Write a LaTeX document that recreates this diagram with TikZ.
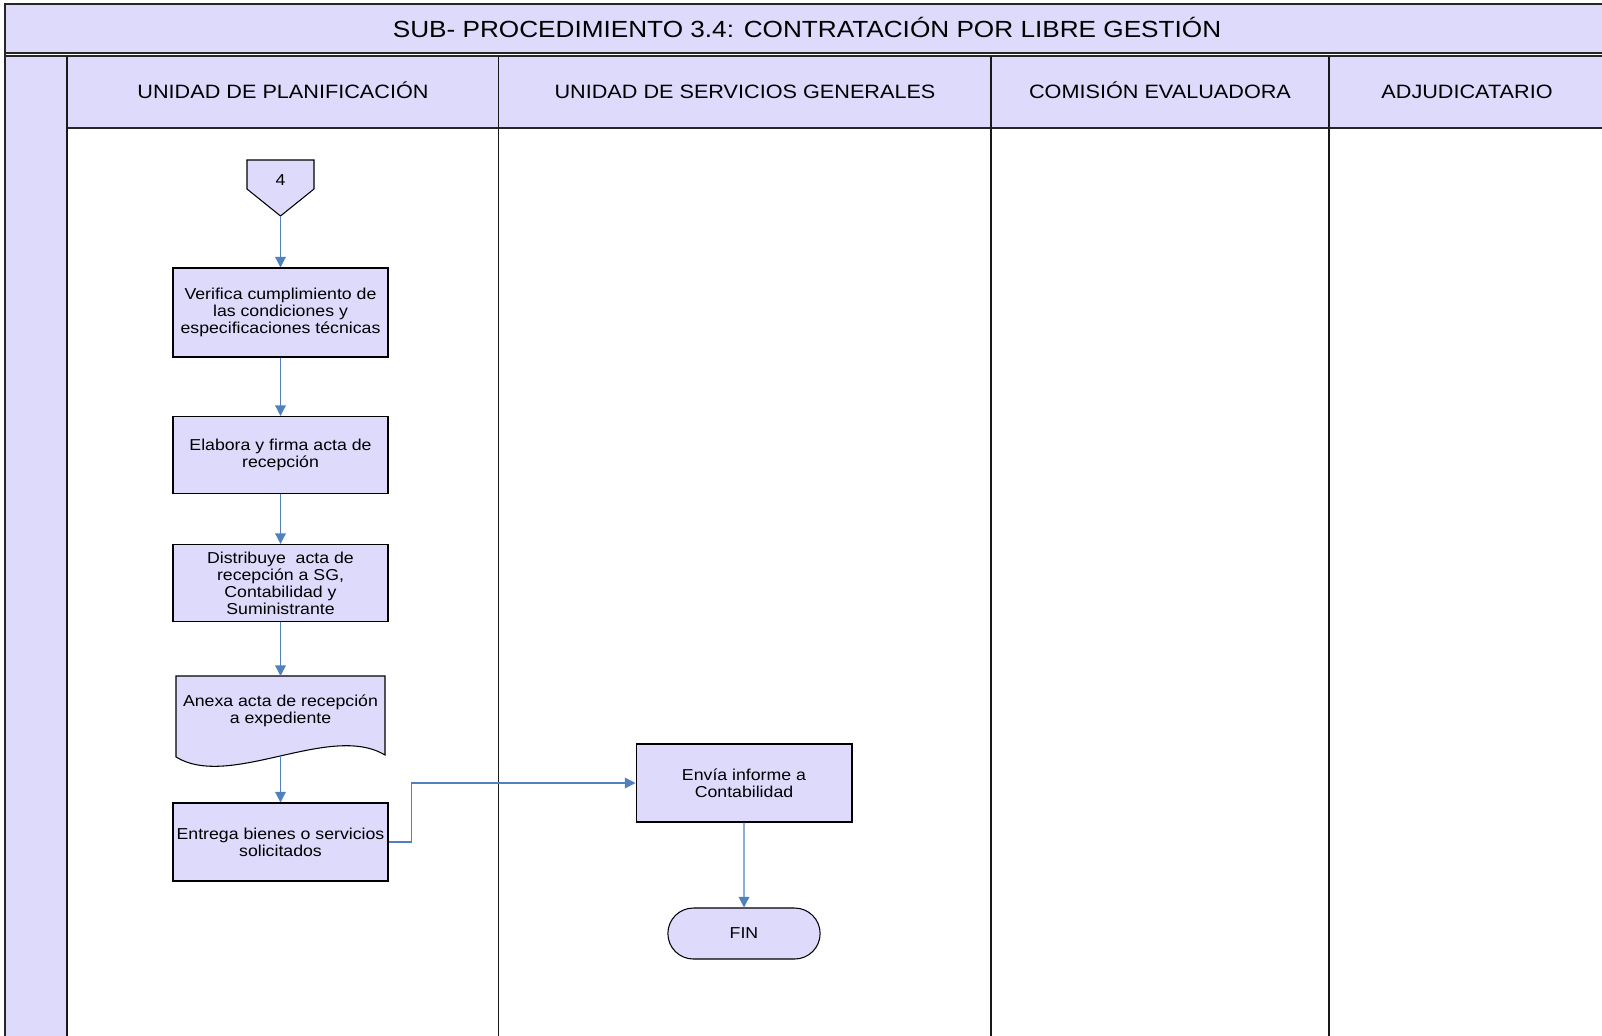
\documentclass[tikz,border=0pt]{standalone}
\usepackage{fontspec}
\setmainfont{Liberation Sans}[FakeStretch=1.12]
\usepackage{xcolor}
\usetikzlibrary{arrows.meta,positioning,shapes.misc}
\definecolor{lavanda}{RGB}{221,218,251}
\definecolor{flecha}{RGB}{79,129,189}

\begin{document}
\begin{tikzpicture}[
      x=0.02cm, y=-0.02cm,
      marco/.style={line width=1.1pt, draw=black!85},
      carril/.style={line width=1pt, draw=black!90},
      titulo/.style={font=\fontsize{13.3}{15}\selectfont, text height=9.5pt, text depth=0pt},
      encabezado/.style={font=\fontsize{11}{13}\selectfont, text height=8pt, text depth=0pt},
      proceso/.style={rectangle, draw, line width=0.6pt, fill=lavanda, minimum width=4.3cm,
        inner xsep=1pt, align=center, font=\fontsize{9}{9.7}\selectfont},
      texto/.style={align=center, font=\fontsize{9}{9.7}\selectfont},
      fin/.style={rounded rectangle, draw, line width=0.6pt, fill=lavanda, minimum width=3.28cm,
        minimum height=1.02cm, font=\fontsize{9}{9.7}\selectfont},
      flujo/.style={draw=flecha, line width=0.7pt, -{Triangle[width=6pt,length=6pt]}}
    ]
      \useasboundingbox (0,0) rectangle (1602,1035);
      \clip (0,0) rectangle (1602,1035);
      % Fondo del diagrama
      \fill[lavanda] (5,4) rectangle (1610,53);
      \fill[lavanda] (5,56) rectangle (67,1040);
      \fill[lavanda] (67,56) rectangle (1610,128);
      \draw[marco] (1610,4) -- (5,4) -- (5,1040);
      \draw[marco] (5,53) -- (1610,53);
      \draw[marco] (5,56) -- (1610,56);
      \draw[marco] (67,128) -- (1610,128);
      \foreach \x in {67,498.6,991,1329}
        \draw[carril] (\x,56) -- (\x,1040);
      % Titulo y carriles
      \node[titulo] (titulo) at (807,29) {SUB- PROCEDIMIENTO 3.4: CONTRATACIÓN POR LIBRE GESTIÓN};
      \node[encabezado] (planificacion) at (283,91) {UNIDAD DE PLANIFICACIÓN};
      \node[encabezado] (servicios) at (745,91) {UNIDAD DE SERVICIOS GENERALES};
      \node[encabezado] (comision) at (1160,91) {COMISIÓN EVALUADORA};
      \node[encabezado] (adjudicatario) at (1467,91) {ADJUDICATARIO};
      % Conector 4
      \draw[fill=lavanda, line width=0.6pt] (247,160) -- (314,160) -- (314,189) -- (280.5,216) -- (247,189) -- cycle;
      \node[texto] (c4) at (280.5,180) {4};
      \coordinate (c4punta) at (280.5,216);
      % Pasos
      \node[proceso, minimum height=1.78cm] (verifica) at (280.5,312.5)
        {Verifica cumplimiento de\\las condiciones y\\especificaciones técnicas};
      \node[proceso, minimum height=1.54cm] (elabora) at (280.5,455)
        {Elabora y firma acta de\\recepción};
      \node[proceso, minimum height=1.54cm] (distribuye) at (280.5,583)
        {Distribuye\ \ acta de\\recepción a SG,\\Contabilidad y\\Suministrante};
      % Documento
      \draw[fill=lavanda, line width=0.6pt] (176,676) -- (385,676) -- (385,755)
        .. controls (330,722) and (230,790) .. (176,757) -- cycle;
      \node[texto] (anexa) at (280.5,711) {Anexa acta de recepción\\a expediente};
      \coordinate (anexaarriba) at (280.5,676);
      \coordinate (anexaabajo) at (280.5,756);
      \node[proceso, minimum height=1.56cm] (entrega) at (280.5,842)
        {Entrega bienes o servicios\\solicitados};
      \node[proceso, minimum width=4.32cm, minimum height=1.56cm] (envia) at (744,783)
        {Envía informe a\\Contabilidad};
      \node[fin] (final) at (744,933.5) {FIN};
      % Flechas
      \draw[flujo] (c4punta) -- (verifica);
      \draw[flujo] (verifica) -- (elabora);
      \draw[flujo] (elabora) -- (distribuye);
      \draw[flujo] (distribuye) -- (anexaarriba);
      \draw[flujo] (anexaabajo) -- (entrega);
      \draw[flujo] (entrega.east) -- ++(23,0) |- (envia.west);
      \draw[flujo] (envia) -- (final);
    \end{tikzpicture}
\end{document}
